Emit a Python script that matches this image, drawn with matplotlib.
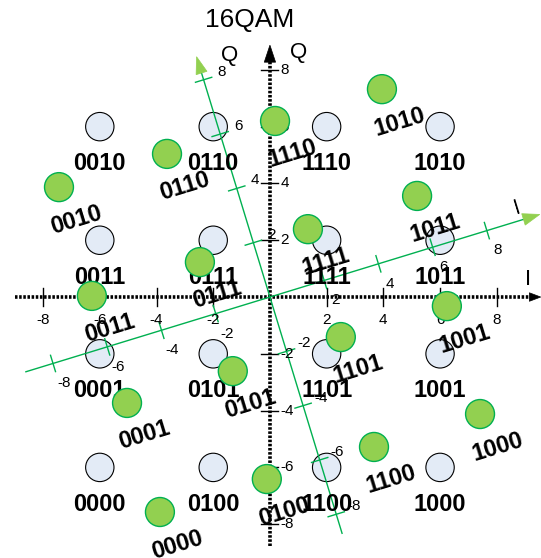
import numpy as np
import matplotlib
matplotlib.use("Agg")
import matplotlib.pyplot as plt
import matplotlib.patches as patches

plt.rcParams['font.family'] = ['Liberation Sans', 'DejaVu Sans']

# ideal 16QAM points (black axes)
bits = ['0010', '0110', '1110', '1010',
        '0011', '0111', '1111', '1011',
        '0001', '0101', '1101', '1001',
        '0000', '0100', '1100', '1000']
ideal_i = [-6, -2, 2, 6, -6, -2, 2, 6, -6, -2, 2, 6, -6, -2, 2, 6]
ideal_q = [6, 6, 6, 6, 2, 2, 2, 2, -2, -2, -2, -2, -6, -6, -6, -6]

# rotated points (green), same bit order
rot_i = [-7.44, -3.63, 0.18, 3.95,
         -6.28, -2.47, 1.34, 5.19,
         -5.04, -1.31, 2.50, 6.24,
         -3.88, -0.11, 3.67, 7.41]
rot_q = [3.87, 5.04, 6.20, 7.32,
         0.04, 1.23, 2.39, 3.56,
         -3.73, -2.61, -1.41, -0.32,
         -7.57, -6.41, -5.28, -4.12]

tick_vals = [-8, -6, -4, -2, 2, 4, 6, 8]
rot_deg = 17

GREEN = '#00b050'
LIGHT_GREEN = '#92d050'
PALE_BLUE = '#e3ebf6'


def head(ax, tip, d, length, width, color, z):
    d = np.asarray(d, float)
    d = d / np.linalg.norm(d)
    n = np.array([-d[1], d[0]])
    tip = np.asarray(tip, float)
    base = tip - d * length
    ax.add_patch(patches.Polygon([tip, base + n * width / 2, base - n * width / 2],
                                 closed=True, facecolor=color, edgecolor=color,
                                 lw=0.5, zorder=z))


fig = plt.figure(figsize=(5.41, 5.58), dpi=100)
ax = fig.add_axes([0, 0, 1, 1])
ax.set_xlim(-9.52, 9.56)
ax.set_ylim(-9.19, 10.46)
ax.axis('off')

# main (dotted) axes
dots = (0, (0.7, 0.45))
ax.plot([-9.0, 9.3], [0, 0], color='black', lw=2.6, ls=dots, dash_capstyle='butt', zorder=1)
ax.plot([0, 0], [-8.75, 8.35], color='black', lw=2.6, ls=dots, dash_capstyle='butt', zorder=1)
head(ax, (9.55, 0), (1, 0), 0.4, 0.3, 'black', 1)
head(ax, (0, 8.87), (0, 1), 0.6, 0.4, 'black', 1)

for t in tick_vals:
    ax.plot([t, t], [-0.32, 0.32], color='black', lw=1, zorder=1)
    ax.text(t, -0.8, str(t), fontsize=11, ha='center', va='center', zorder=4)
    ax.plot([-0.3, 0.3], [t, t], color='black', lw=1, zorder=1)
    ax.text(0.38, t, str(t), fontsize=11, ha='left', va='center', zorder=4)

ax.text(9.1, 0.6, 'I', fontsize=16, ha='center', va='center')
ax.text(1.02, 8.6, 'Q', fontsize=16, ha='center', va='center')

# rotated (green) axes
th = np.deg2rad(rot_deg)
u = np.array([np.cos(th), np.sin(th)])
v = np.array([-np.sin(th), np.cos(th)])

p0, p1 = -9.0 * u, 9.4 * u
ax.plot([p0[0], p1[0]], [p0[1], p1[1]], color=GREEN, lw=1.0, zorder=3)
head(ax, 9.95 * u, u, 0.6, 0.42, LIGHT_GREEN, 3)
p0, p1 = -8.7 * v, 8.3 * v
ax.plot([p0[0], p1[0]], [p0[1], p1[1]], color=GREEN, lw=1.0, zorder=3)
head(ax, 8.85 * v, v, 0.6, 0.4, LIGHT_GREEN, 3)

for t in tick_vals:
    c = t * u
    a, b = c - 0.3 * v, c + 0.3 * v
    ax.plot([a[0], b[0]], [a[1], b[1]], color=GREEN, lw=1.0, zorder=3)
    ax.text(c[0] + 0.39, c[1] - 0.7, str(t), fontsize=11, ha='center', va='center', zorder=4)
    c = t * v
    a, b = c - 0.3 * u, c + 0.3 * u
    ax.plot([a[0], b[0]], [a[1], b[1]], color=GREEN, lw=1.0, zorder=3)
    ax.text(c[0] + 0.63, c[1] + 0.28, str(t), fontsize=11, ha='center', va='center', zorder=4)

ax.text(8.71, 3.13, 'I', fontsize=16, ha='center', va='center', rotation=rot_deg)
ax.text(-1.41, 8.5, 'Q', fontsize=16, ha='center', va='center')

# constellation points
for b, x, y in zip(bits, ideal_i, ideal_q):
    ax.add_patch(patches.Circle((x, y), 0.5, facecolor=PALE_BLUE, edgecolor='black',
                                lw=0.8, zorder=2))
    ax.text(x, y - 1.3, b, fontsize=17, fontweight='bold', ha='center', va='center', zorder=5)

for b, x, y in zip(bits, rot_i, rot_q):
    ax.add_patch(patches.Circle((x, y), 0.51, facecolor=LIGHT_GREEN, edgecolor=GREEN,
                                lw=1.0, zorder=6))
    ax.text(x + 0.62, y - 1.15, b, fontsize=17, fontweight='bold', ha='center', va='center',
            rotation=rot_deg, rotation_mode='anchor', zorder=5)

ax.text(-0.7, 9.75, '16QAM', fontsize=19, ha='center', va='center')

fig.savefig('out.png', dpi=100)
